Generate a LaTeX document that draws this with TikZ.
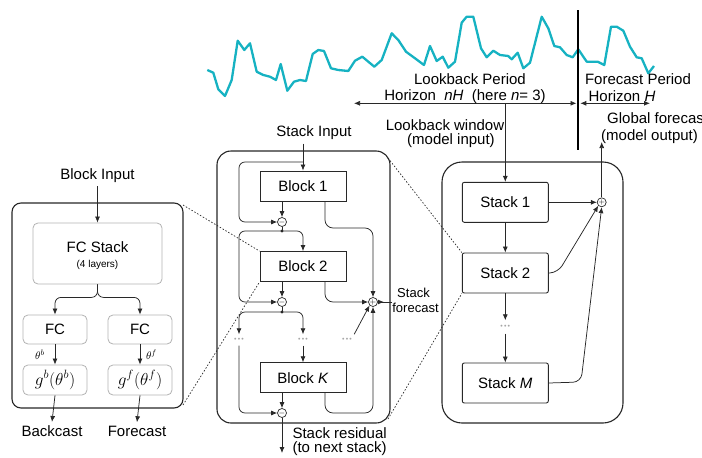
\documentclass[tikz,border=0pt]{standalone}
\usepackage{fontspec}
\setmainfont{Liberation Sans}
\usetikzlibrary{arrows.meta}
\definecolor{tsc}{RGB}{22,178,194}
\definecolor{ln}{RGB}{40,40,40}
\begin{document}
\begin{tikzpicture}[x=1pt,y=-1pt,
  every node/.style={font=\fontsize{15}{17}\selectfont, text=black},
  arr/.style={draw=ln,line width=0.75pt,-{Latex[length=6pt,width=5pt]}},
  lnk/.style={draw=ln,line width=0.75pt},
  panel/.style={draw=black!85,line width=1.1pt},
  blk/.style={draw=ln,line width=0.9pt,minimum width=86pt,minimum height=30pt,inner sep=0pt},
  stk/.style={blk,minimum height=40pt,rounded corners=2pt},
  gbox/.style={draw=black!30,line width=0.8pt,rounded corners=5pt,minimum width=64pt,minimum height=29pt,inner sep=0pt},
  opc/.style={circle,draw=ln,line width=0.7pt,minimum size=9pt,inner sep=0pt,fill=white,font=\fontsize{8}{8}\selectfont},
  zoomline/.style={draw=ln,line width=0.7pt,dash pattern=on 1.5pt off 1.8pt},
  gdots/.style={text=black!35,font=\fontsize{7}{7}\selectfont,inner sep=0pt,minimum height=11pt,minimum width=14pt},
  small/.style={font=\fontsize{13}{14}\selectfont},
  tight/.style={inner sep=1pt}
]
\useasboundingbox (0,0) rectangle (702,458);

% ---------- time series ----------
\draw[tsc,line width=2.3pt,line join=round] plot coordinates {
(207.3,70) (213.3,72.7) (218.3,89.3) (225,96) (231.7,80) (237.7,40.7) (244.3,50) (250,43.3)
(256.7,71.7) (263.3,75) (270,76.7) (276,80) (280.7,64) (287.3,90.7) (294,81.7) (300,80) (306,81)
(312.7,54) (318.3,50) (324,51) (331,68.3) (338.3,70) (348.3,71) (355,60.7) (362.3,56.7)
(374.3,66.7) (381.7,60) (391.7,33.3) (398.3,40) (406,51.7) (415,58.3) (424,65) (430,46)
(436.7,61) (442.7,56.7) (448.3,67.7) (455,61.7) (461.7,22.7) (466.7,16.7) (473.3,16.7)
(481,48.3) (486.7,57.3) (493.3,50.7) (500,55) (508.3,56) (511.7,59.3) (517.7,52.7)
(523.3,68.3) (530,62.7) (541.7,16.7) (548.3,28.3) (554.3,46) (560,47.3) (566.7,55)
(572.7,57.3) (578.3,49.3) (586.7,61.7) (597.7,61.7) (604.3,65) (611,26.7) (616.7,26.7)
(623.3,30.7) (630,46.7) (636.7,57.3) (641.7,58.3) (648.3,73.3) (654,66)};

% ---------- horizon annotations ----------
\coordinate (vtop) at (578.3,10);
\coordinate (vbot) at (578.3,150);
\draw[black,line width=2.2pt] (vtop) -- (vbot);
\coordinate (lbL) at (354,103.3);
\coordinate (lbR) at (576.5,103.3);
\coordinate (fcL) at (580.3,103.3);
\coordinate (fcR) at (650,103.3);
\draw[lnk,{Latex[length=6pt,width=5pt]}-{Latex[length=6pt,width=5pt]}] (lbL) -- (lbR);
\draw[lnk,{Latex[length=6pt,width=5pt]}-{Latex[length=6pt,width=5pt]}] (fcL) -- (fcR);
\node[tight] (lbp) at (470,79) {Lookback Period};
\node[tight] (lbh) at (465,96.5) {Horizon~~\textit{nH}~~(here \textit{n}= 3)};
\node[tight] (fcp) at (638,79) {Forecast Period};
\node[tight] (fch) at (622,96.5) {Horizon \textit{H}};
\node[tight,align=center,font=\fontsize{15}{14}\selectfont] (lbw) at (445,134) {Lookback window\\\hspace*{12pt}(model input)};
\node[tight,anchor=west,align=left,font=\fontsize{15}{17}\selectfont] (gf) at (600,128.5) {\hspace*{6pt}Global forecast\\(model output)};
\coordinate (lbtap) at (505.3,103.3);

% ---------- left panel: block ----------
\draw[panel,rounded corners=9pt] (12,203) rectangle (183,408);
\node (bin) at (97.5,175.5) {Block Input};
\node[gbox,minimum width=129pt,minimum height=61pt] (fcs) at (97.5,253.5) {};
\node (fcst) at (97.5,247) {FC Stack};
\node[font=\fontsize{10}{12}\selectfont] (fcl4) at (97.5,265) {(4 layers)};
\node[gbox] (fcl) at (55,329.5) {FC};
\node[gbox] (fcr) at (140,329.5) {FC};
\node[gbox,minimum height=30pt] (gl) at (55,380) {\fontsize{18}{18}\selectfont$g^b(\theta^b)$};
\node[gbox,minimum height=30pt] (gr) at (140,380) {\fontsize{18}{18}\selectfont$g^f(\theta^f)$};
\node[font=\fontsize{11}{11}\selectfont] (tb) at (40,355) {$\theta^b$};
\node[font=\fontsize{11}{11}\selectfont] (tf) at (151.5,355) {$\theta^f$};
\node (bc) at (52,431) {Backcast};
\node (fc) at (137,431) {Forecast};
\draw[arr] (bin.south) -- (fcs.north);
\draw[arr,rounded corners=6pt] (fcs.south) -- ++(0,13) -| (fcl.north);
\draw[arr,rounded corners=6pt] (fcs.south) -- ++(0,13) -| (fcr.north);
\draw[arr] (fcl.south) -- (gl.north);
\draw[arr] (fcr.south) -- (gr.north);
\draw[arr] (gl.south) -- (bc.north);
\draw[arr] (gr.south) -- (fc.north);

% ---------- middle panel: stack ----------
\draw[panel,rounded corners=14pt] (217,151) rectangle (390,423);
\node (sin) at (314,133) {Stack Input};
\node[blk] (b1) at (303,186) {Block 1};
\node[blk] (b2) at (303,266.5) {Block 2};
\node[blk] (bk) at (303,377.7) {Block \textit{K}};
\node[opc] (m1) at (282,222) {$-$};
\node[opc] (m2) at (282,302) {$-$};
\node[opc] (m3) at (282,413) {$-$};
\node[opc] (pl) at (373,302) {$+$};
\coordinate (d1) at (282,231);
\coordinate (d2) at (282,312);
\fill[ln] (d1) circle (1.6pt);
\fill[ln] (d2) circle (1.6pt);
\node[gdots] (dl) at (239,340) {\textbullet\,\textbullet\,\textbullet};
\node[gdots] (dm) at (303,340) {\textbullet\,\textbullet\,\textbullet};
\node[gdots] (dr) at (347,340) {\textbullet\,\textbullet\,\textbullet};
\coordinate (sintap) at (303,162);
\draw[arr] (sin.south -| b1.north) -- (b1.north);
\draw[arr,rounded corners=6pt] (sintap) -- (239,162) -- (239,222) -- (m1.west);
\draw[arr] (b1.south -| m1) -- (m1.north);
\draw[lnk] (m1.south) -- (d1);
\draw[arr,rounded corners=6pt] (d1) -| (b2.north);
\draw[arr,rounded corners=6pt] (d1) -- (239,231) -- (239,302) -- (m2.west);
\draw[arr] (b2.south -| m2) -- (m2.north);
\draw[lnk] (m2.south) -- (d2);
\draw[arr,rounded corners=6pt] (d2) -| (dl.north);
\draw[arr,rounded corners=6pt] (d2) -| (dm.north);
\draw[arr] (dm.south) -- (bk.north);
\draw[arr,rounded corners=6pt] (dl.south) -- (239,413) -- (m3.west);
\draw[arr] (bk.south -| m3) -- (m3.north);
\coordinate (sres0) at (282,453);
\draw[arr] (m3.south) -- (sres0);
\node[anchor=west,align=left,font=\fontsize{15}{14}\selectfont] (sres) at (289,442) {Stack residual\\(to next stack)};
\draw[arr,rounded corners=8pt] (b1.south -| 325,0) -- (325,228) -- (373,228) -- (pl.north);
\draw[arr,rounded corners=8pt] (b2.south -| 325,0) -- (325,302) -- (pl.west);
\draw[arr,rounded corners=8pt] (bk.south -| 325,0) -- (325,413) -- (373,413) -- (pl.south);
\draw[arr] (dr.north east) -- (pl.south west);
\coordinate (sfe) at (392,302);
\draw[lnk] (pl.east) -- (sfe);
\draw[arr] (pl.east) -- ++(6,0);
\node[small] (sf1) at (413.5,292.5) {Stack};
\node[small] (sf2) at (415.5,308) {forecast};

% ---------- right panel: model ----------
\draw[panel,rounded corners=20pt] (442,162) rectangle (623,423);
\node[stk] (s1) at (505.3,202.3) {Stack 1};
\node[stk] (s2) at (505.3,273) {Stack 2};
\node[stk] (sm) at (505.3,383) {Stack \textit{M}};
\node[gdots,minimum height=13pt] (rd) at (505.3,327) {\textbullet\,\textbullet\,\textbullet};
\node[opc] (p2) at (601.7,202.3) {$+$};
\coordinate (gout) at (601.7,142);
\draw[arr] (lbtap) -- (s1.north);
\draw[arr] (s1.south) -- (s2.north);
\draw[arr] (s2.south) -- (rd.north);
\draw[arr] (rd.south) -- (sm.north);
\draw[arr] (s1.east) -- (p2.west);
\draw[arr,rounded corners=8pt] (s2.east) -- (558,272.5) -- (p2.south west);
\draw[arr,rounded corners=8pt] (sm.east) -- (581,382) -- (p2.south);
\draw[arr] (p2.north) -- (gout);

% ---------- zoom lines ----------
\coordinate (lp1) at (183,205);
\coordinate (lp2) at (183,405);
\coordinate (mp1) at (388,158);
\coordinate (mp2) at (388,419);
\draw[zoomline] (lp1) -- (b2.north west);
\draw[zoomline] (lp2) -- (b2.south west);
\draw[zoomline] (mp1) -- (s2.north west);
\draw[zoomline] (mp2) -- (s2.south west);
\end{tikzpicture}
\end{document}
